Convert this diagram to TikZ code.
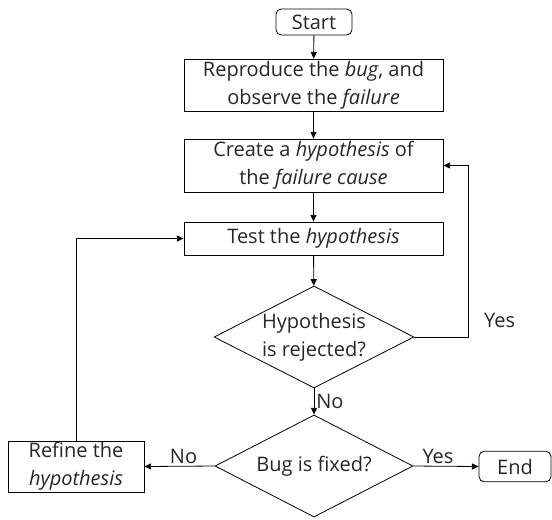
\documentclass[tikz,border=0pt]{standalone}
\usepackage{fontspec}
\setmainfont{Open Sans}
\usepackage{tikz}
\usetikzlibrary{arrows,shapes,positioning}
\usetikzlibrary{arrows.meta}

\begin{document}
\begin{tikzpicture}[x=0.75pt,y=0.75pt,yscale=-1,xscale=1,
  every node/.style={font=\fontsize{15}{21}\selectfont, text=black!85, align=center},
  terminal/.style={draw, rounded corners=4pt, inner sep=0pt, minimum height=19.5pt},
  process/.style={draw, inner sep=0pt, minimum width=194.25pt},
  decision/.style={draw, diamond, inner sep=0pt, aspect=2, minimum width=148.5pt, minimum height=76.5pt},
  flow/.style={-{Triangle[length=5pt,width=4.5pt]}},
  lbl/.style={inner sep=1.5pt}]
\useasboundingbox (0,0) rectangle (552,519);
\tikzset{every path/.style={line width=0.6pt}}

%Shape: Terminal [id:start] 
\node [terminal, minimum width=57pt] (start) at (314,22) {Start};
%Shape: Rectangle [id:repro] 
\node [process, minimum height=39pt] (repro) at (313.5,85) {Reproduce the \textit{bug}, and\\observe the \textit{failure}};
%Shape: Rectangle [id:hypo] 
\node [process, minimum height=39.75pt] (hypo) at (313.5,165.5) {Create a \textit{hypothesis} of\\the \textit{failure cause}};
%Shape: Rectangle [id:test] 
\node [process, minimum height=24.75pt] (test) at (313.5,238.5) {Test the \textit{hypothesis}};
%Shape: Diamond [id:rejected] 
\node [decision] (rejected) at (314,337) {Hypothesis\\is rejected?};
%Shape: Diamond [id:fixed] 
\node [decision] (fixed) at (314,466) {Bug is fixed?};
%Shape: Rectangle [id:refine] 
\node [process, minimum width=102pt, minimum height=38.25pt] (refine) at (76,466.5) {Refine the\\\textit{hypothesis}};
%Shape: Terminal [id:end] 
\node [terminal, minimum width=54pt, minimum height=23pt] (end) at (515,466.5) {End};

%Straight Lines 
\draw [flow] (start) -- (repro);
\draw [flow] (repro) -- (hypo);
\draw [flow] (hypo) -- (test);
\draw [flow] (test) -- (rejected);
\draw [flow] (rejected) -- node [lbl, right] {No} (fixed);
%Loop back when rejected 
\draw [flow] (rejected.east) -- ++(54,0) node [lbl, anchor=south west, xshift=10pt, yshift=5pt] {Yes} |- (hypo.east);
\draw [flow] (fixed.west) -- node [lbl, above, xshift=3pt] {No} (refine.east);
\draw [flow] (fixed.east) -- node [lbl, above, xshift=-6pt] {Yes} (end.west);
\draw [flow] (refine.north) |- (test.west);

\end{tikzpicture}
\end{document}
